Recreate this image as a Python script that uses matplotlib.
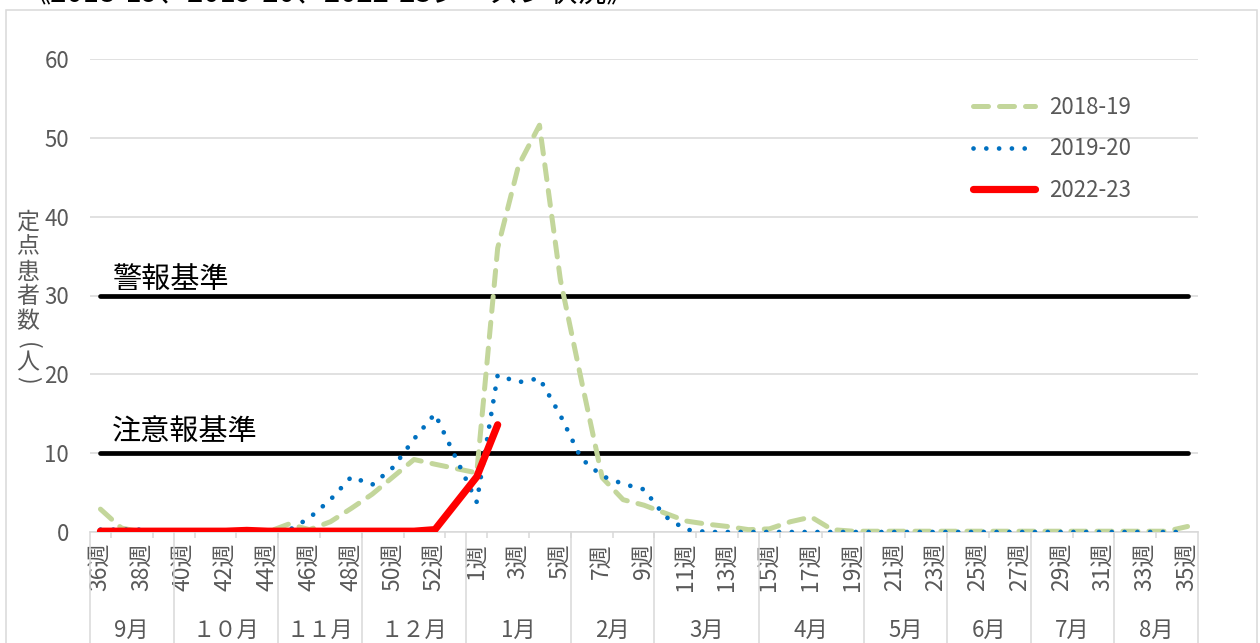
import numpy as np
import matplotlib
matplotlib.use('Agg')
import matplotlib.pyplot as plt
import matplotlib.transforms as mtrans
from matplotlib.patches import Rectangle

plt.rcParams['font.family'] = ['Noto Sans CJK JP', 'DejaVu Sans']

'''data'''
nan = np.nan
weeks = list(range(36, 54)) + list(range(1, 36))
month_names = ['9月', '１０月', '１１月', '１２月', '1月', '2月', '3月',
               '4月', '5月', '6月', '7月', '8月']
month_weeks = [4, 5, 4, 5, 5, 4, 5, 5, 4, 4, 4, 4]

s2018 = [2.9, 0.5, 0.0, 0.0, 0.0, 0.0, 0.0, 0.0, 0.0, 1.0,
         0.3, 1.3, 3.0, 4.8, 7.0, 9.2, 8.6, nan, 7.5, 36.0,
         46.5, 51.6, 32.0, 19.3, 6.9, 4.1, 3.4, 2.4, 1.4, 1.0,
         0.7, 0.3, 0.4, 1.3, 1.9, 0.3, 0.1, 0.1, 0.1, 0.1,
         0.1, 0.1, 0.1, 0.1, 0.1, 0.1, 0.1, 0.1, 0.1, 0.1,
         0.1, 0.1, 0.7]
s2019 = [0.3, 0.3, 0.3, 0.0, 0.0, 0.0, 0.0, 0.0, 0.0, 0.2,
         1.8, 4.1, 7.0, 6.0, 8.2, 11.8, 15.0, nan, 3.8, 19.9,
         19.0, 19.5, 14.8, 9.3, 7.1, 6.1, 5.4, 2.0, 0.3, 0.0,
         0.0, 0.0, 0.0, 0.0, 0.0, 0.0, 0.0, 0.0, 0.0, 0.0,
         0.0, 0.0, 0.0, 0.0, 0.0, 0.0, 0.0, 0.0, 0.0, 0.0,
         0.0, 0.0, 0.0]
s2022 = [0.1, 0.1, 0.1, 0.1, 0.1, 0.1, 0.1, 0.2, 0.1, 0.1,
         0.1, 0.1, 0.1, 0.1, 0.1, 0.1, 0.3, nan, 7.0, 13.6]

alert_level = 30     # 警報基準
warning_level = 10   # 注意報基準

'''plot'''
gray = '#D9D9D9'
text_gray = '#595959'

fig = plt.figure(figsize=(12.6, 6.43), dpi=100)
ax = fig.add_axes([90 / 1260, 1 - 532 / 643, 1108 / 1260, 473 / 643])

x = np.arange(len(weeks))


def draw(vals, **kw):
    v = np.array(vals, dtype=float)
    xx = x[:len(v)]
    ok = np.isfinite(v)
    return ax.plot(xx[ok], v[ok], **kw)[0]


ax.hlines([alert_level, warning_level], x[0], x[-1], color='black',
          linewidth=3.4, capstyle='round', zorder=3)

l1 = draw(s2018, color='#C3D69B', linewidth=3.6, dashes=(3.0, 2.2),
          dash_capstyle='round', label='2018-19', zorder=4)
l2 = draw(s2019, color='#0070C0', linewidth=3.4, dashes=(0.01, 2.7),
          dash_capstyle='round', label='2019-20', zorder=5)
l3 = draw(s2022, color='#FF0000', linewidth=5.2, solid_capstyle='round',
          solid_joinstyle='round', label='2022-23', zorder=6)

ax.text(0.55, 32.0, '警報基準', fontsize=21, va='center', ha='left', zorder=7)
ax.text(0.55, 12.7, '注意報基準', fontsize=21, va='center', ha='left', zorder=7)

ax.set_xlim(-0.5, len(weeks) - 0.5)
ax.set_ylim(0, 60)
ax.set_yticks(np.arange(0, 61, 10))
ax.grid(axis='y', color=gray, linewidth=1.1)
ax.set_axisbelow(True)
for s in ['top', 'right', 'left']:
    ax.spines[s].set_visible(False)
ax.spines['bottom'].set_color(gray)
ax.spines['bottom'].set_linewidth(1.1)
ax.tick_params(axis='y', length=0, pad=15, labelsize=16, labelcolor=text_gray)

ax.set_xticks(x[::2])
ax.set_xticklabels([f'{w}週' for w in weeks][::2], rotation=90, va='top')
ax.tick_params(axis='x', which='major', length=0, pad=8, labelsize=16.5,
               labelcolor=text_gray)
ax.set_xticks(x[:-1:2] + 0.5, minor=True)
ax.tick_params(axis='x', which='minor', length=4, width=1.1, color=gray)

# month separators and names
trans = mtrans.blended_transform_factory(ax.transData, ax.transAxes)
bounds = np.concatenate([[0], np.cumsum(month_weeks)]) - 0.5
for b in bounds:
    ax.plot([b, b], [0, -0.3], color=gray, linewidth=1.1, transform=trans,
            clip_on=False)
for name, a, b in zip(month_names, bounds[:-1], bounds[1:]):
    ax.text((a + b) / 2, -0.207, name, transform=trans, ha='center',
            va='center', fontsize=16, color=text_gray)

leg = ax.legend(handles=[l1, l2, l3], loc='center left',
                bbox_to_anchor=(0.779, 0.81), frameon=False, fontsize=16,
                handlelength=2.8, handletextpad=0.6, labelspacing=0.82)
for t in leg.get_texts():
    t.set_color(text_gray)

# vertical y-axis title, one character per row (parens turned sideways)
ylabel_chars = ['定', '点', '患', '者', '数', '(', '人', ')']
ylabel_rows = [222, 247, 272, 297, 322, 346, 363, 380]
for ch, yy in zip(ylabel_chars, ylabel_rows):
    rot = -90 if ch in '()' else 0
    fig.text(28 / 1260, 1 - yy / 643, ch, ha='center', va='center',
             fontsize=16.5, color=text_gray, rotation=rot)

fig.text(22 / 1260, 1 - 2 / 643, '《2018-19、2019-20、2022-23シーズン状況》',
         ha='left', va='baseline', fontsize=21, color='black')

fig.patches.append(Rectangle((6 / 1260, -0.05), 1251 / 1260, 1.05 - 10 / 643,
                             transform=fig.transFigure, fill=False,
                             edgecolor=gray, linewidth=1.1))

plt.savefig('out.png', dpi=100)
